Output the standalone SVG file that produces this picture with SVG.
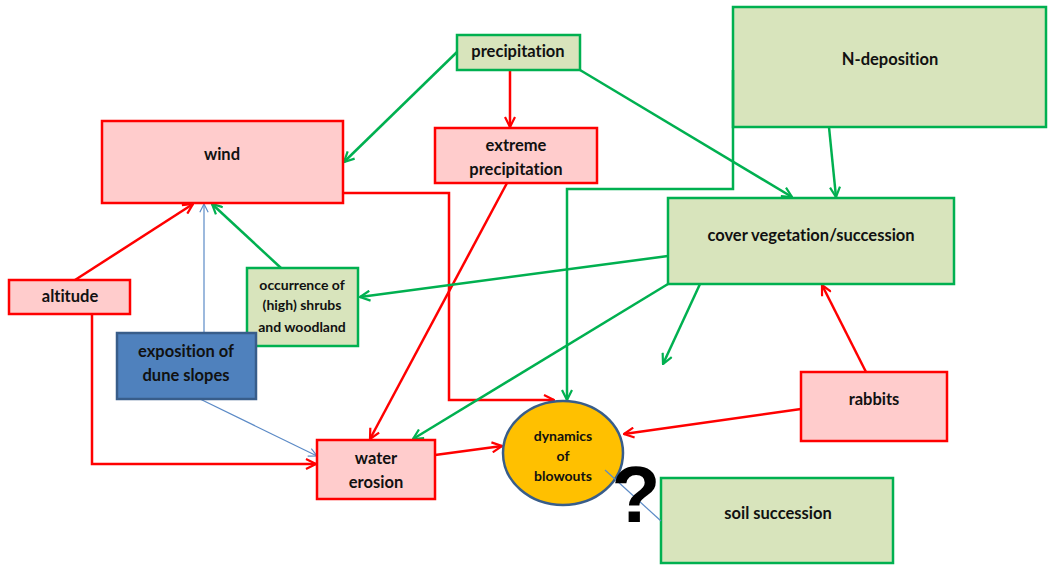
<svg xmlns="http://www.w3.org/2000/svg" width="1050" height="568" viewBox="0 0 1050 568">
<defs>
<style>
.t{font-family:Lato,"Liberation Sans",sans-serif;font-weight:bold;font-size:16.5px;fill:#111;text-anchor:middle;dominant-baseline:central;font-variant-ligatures:none;font-feature-settings:"liga" 0,"dlig" 0}
.s{font-size:14px}
.red{fill:#ffcccc;stroke:#ff0000;stroke-width:2.5}
.grn{fill:#d8e4bc;stroke:#00b050;stroke-width:2.5}
.blu{fill:#4f81bd;stroke:#385d8a;stroke-width:2.5}
.cr{fill:none;stroke:#ff0000;stroke-width:2.5}
.cg{fill:none;stroke:#00b050;stroke-width:2.5}
.cb{fill:none;stroke:#5b8ac6;stroke-width:1.2}
</style>
<marker id="ar" viewBox="0 0 12 12" refX="11" refY="6" markerWidth="12" markerHeight="12" markerUnits="userSpaceOnUse" orient="auto"><path d="M1,1 L11,6 L1,11" fill="none" stroke="#ff0000" stroke-width="2.2"/></marker>
<marker id="ag" viewBox="0 0 12 12" refX="11" refY="6" markerWidth="12" markerHeight="12" markerUnits="userSpaceOnUse" orient="auto"><path d="M1,1 L11,6 L1,11" fill="none" stroke="#00b050" stroke-width="2.2"/></marker>
<marker id="ab" viewBox="0 0 12 12" refX="11" refY="6" markerWidth="10" markerHeight="10" markerUnits="userSpaceOnUse" orient="auto"><path d="M1,1 L11,6 L1,11" fill="none" stroke="#5b8ac6" stroke-width="1.4"/></marker>
</defs>
<rect width="1050" height="568" fill="#fff"/>

<g id="n-deposition"><rect class="grn" x="733" y="7" width="313" height="120"/><text class="t" x="890" y="59">N-deposition</text></g>
<g id="soil-succession"><rect class="grn" x="661" y="478" width="232" height="85"/><text class="t" x="778" y="513">soil succession</text></g>

<g id="connectors">
<polyline class="cg" points="733,70 733,189 567,189 567,400" marker-end="url(#ag)"/>
<line class="cg" x1="457" y1="52" x2="344" y2="162" marker-end="url(#ag)"/>
<line class="cr" x1="510" y1="70" x2="510" y2="127" marker-end="url(#ar)"/>
<line class="cg" x1="580" y1="70" x2="792" y2="197" marker-end="url(#ag)"/>
<line class="cg" x1="829" y1="127" x2="836" y2="197" marker-end="url(#ag)"/>
<polyline class="cr" points="343,193 449,193 449,400 554,400" marker-end="url(#ar)"/>
<line class="cr" x1="507" y1="183" x2="370" y2="439" marker-end="url(#ar)"/>
<line class="cr" x1="75" y1="280" x2="193" y2="204" marker-end="url(#ar)"/>
<line class="cb" x1="204" y1="333" x2="204" y2="204" marker-end="url(#ab)"/>
<line class="cg" x1="281" y1="268" x2="212" y2="204" marker-end="url(#ag)"/>
<line class="cg" x1="668" y1="256" x2="360" y2="297" marker-end="url(#ag)"/>
<line class="cg" x1="668" y1="284" x2="413" y2="439" marker-end="url(#ag)"/>
<line class="cg" x1="700" y1="284" x2="663" y2="364" marker-end="url(#ag)"/>
<line class="cr" x1="866" y1="372" x2="822" y2="285" marker-end="url(#ar)"/>
<line class="cr" x1="801" y1="409" x2="624" y2="434" marker-end="url(#ar)"/>
<polyline class="cr" points="92,314 92,464 316,464" marker-end="url(#ar)"/>
<line class="cb" x1="200" y1="399" x2="317" y2="456" marker-end="url(#ab)"/>
<line class="cr" x1="435" y1="455" x2="502" y2="446" marker-end="url(#ar)"/>
</g>

<g id="precipitation"><rect class="grn" x="457" y="35" width="123" height="35"/><text class="t" x="518" y="51">precipitation</text></g>
<g id="wind"><rect class="red" x="102" y="121" width="241" height="82"/><text class="t" x="222" y="154">wind</text></g>
<g id="extreme-precipitation"><rect class="red" x="435" y="128" width="162" height="55"/><text class="t" x="516" y="145">extreme</text><text class="t" x="516" y="169">precipitation</text></g>
<g id="cover-vegetation"><rect class="grn" x="668" y="198" width="286" height="86"/><text class="t" x="811" y="235">cover vegetation/succession</text></g>
<g id="altitude"><rect class="red" x="9" y="280" width="121" height="34"/><text class="t" x="70" y="296">altitude</text></g>
<g id="occurrence"><rect class="grn" x="247" y="268" width="111" height="78"/><text class="t s" x="302" y="284">occurrence of</text><text class="t s" x="302" y="304">(high) shrubs</text><text class="t s" x="302" y="326">and woodland</text></g>
<g id="exposition"><rect class="blu" x="117" y="333" width="139" height="66"/><text class="t" x="186" y="351">exposition of</text><text class="t" x="186" y="375">dune slopes</text></g>
<g id="water-erosion"><rect class="red" x="317" y="440" width="118" height="59"/><text class="t" x="376" y="458">water</text><text class="t" x="376" y="482">erosion</text></g>
<g id="rabbits"><rect class="red" x="801" y="372" width="146" height="69"/><text class="t" x="874" y="399">rabbits</text></g>
<g id="dynamics"><ellipse cx="563" cy="453" rx="60" ry="52" fill="#ffc000" stroke="#385d8a" stroke-width="2.5"/><text class="t s" x="563" y="435">dynamics</text><text class="t s" x="563" y="455">of</text><text class="t s" x="563" y="475">blowouts</text></g>

<g id="soil-link"><line class="cb" x1="605" y1="470" x2="661" y2="521"/></g>
<text x="636" y="522" font-family="'Liberation Sans',Arial,sans-serif" font-weight="bold" font-size="80" fill="#000" text-anchor="middle">?</text>
</svg>
